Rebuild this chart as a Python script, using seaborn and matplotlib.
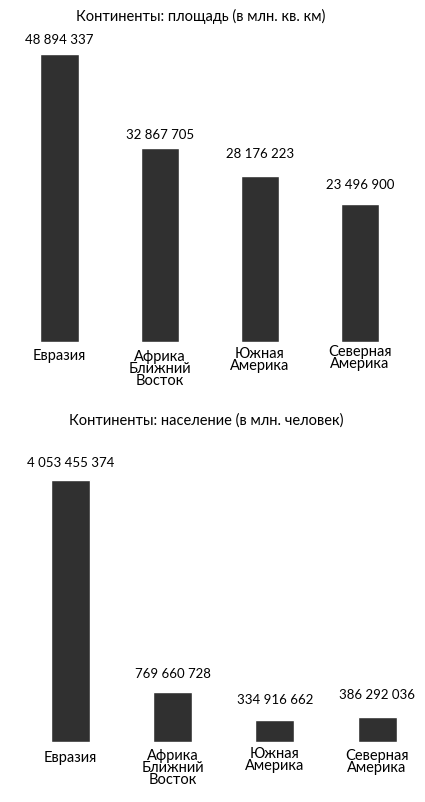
import matplotlib
matplotlib.use("Agg")
import matplotlib.pyplot as plt
import seaborn as sns

continents = ["Евразия", "Африка\nБлижний\nВосток", "Южная\nАмерика", "Северная\nАмерика"]
area = [48894337, 32867705, 28176223, 23496900]
population = [4053455374, 769660728, 334916662, 386292036]
area_title = "Континенты: площадь (в млн. кв. км)"
pop_title = "Континенты: население (в млн. человек)"

sns.set_theme(style="white")
plt.rcParams["font.family"] = ["Lato", "DejaVu Sans"]

W, H = 425, 802
fig = plt.figure(figsize=(W / 100, H / 100), dpi=100)
bar_color = "#303030"


def fmt(v):
    return f"{v:,}".replace(",", " ")


def draw(ax, values, val_pad, lab_pad):
    sns.barplot(x=continents, y=values, ax=ax, color=bar_color,
                saturation=1, width=0.38)
    ax.set_xlim(-0.5, 3.5)
    ax.set_ylim(0, max(values))
    ax.axis("off")
    for i, v in enumerate(values):
        ax.annotate(fmt(v), (i, v), xytext=(0, val_pad[i]),
                    textcoords="offset pixels", ha="center", va="bottom",
                    fontsize=9.5, color="black", annotation_clip=False)
        ax.annotate(continents[i], (i, 0), xytext=(0, -lab_pad[i]),
                    textcoords="offset pixels", ha="center", va="top",
                    fontsize=10.5, color="black", linespacing=0.8,
                    annotation_clip=False)


# top chart: baseline at 342px, Eurasia top at 54px
ax1 = fig.add_axes([9.4 / W, 1 - 342 / H, 400.8 / W, 288 / H])
draw(ax1, area, [8, 7, 16, 13], [7, 8, 5, 3])
fig.text(201 / W, 1 - 16 / H, area_title, ha="center", va="center",
         fontsize=10.5, color="black")

# bottom chart: baseline at 742px, Eurasia top at 480px
ax2 = fig.add_axes([19.4 / W, 1 - 742 / H, 408.8 / W, 262 / H])
draw(ax2, population, [11, 12, 14, 16], [9, 7, 5, 7])
fig.text(206 / W, 1 - 421 / H, pop_title, ha="center", va="center",
         fontsize=10.5, color="black")

fig.savefig("out.png", dpi=100, facecolor="white")
